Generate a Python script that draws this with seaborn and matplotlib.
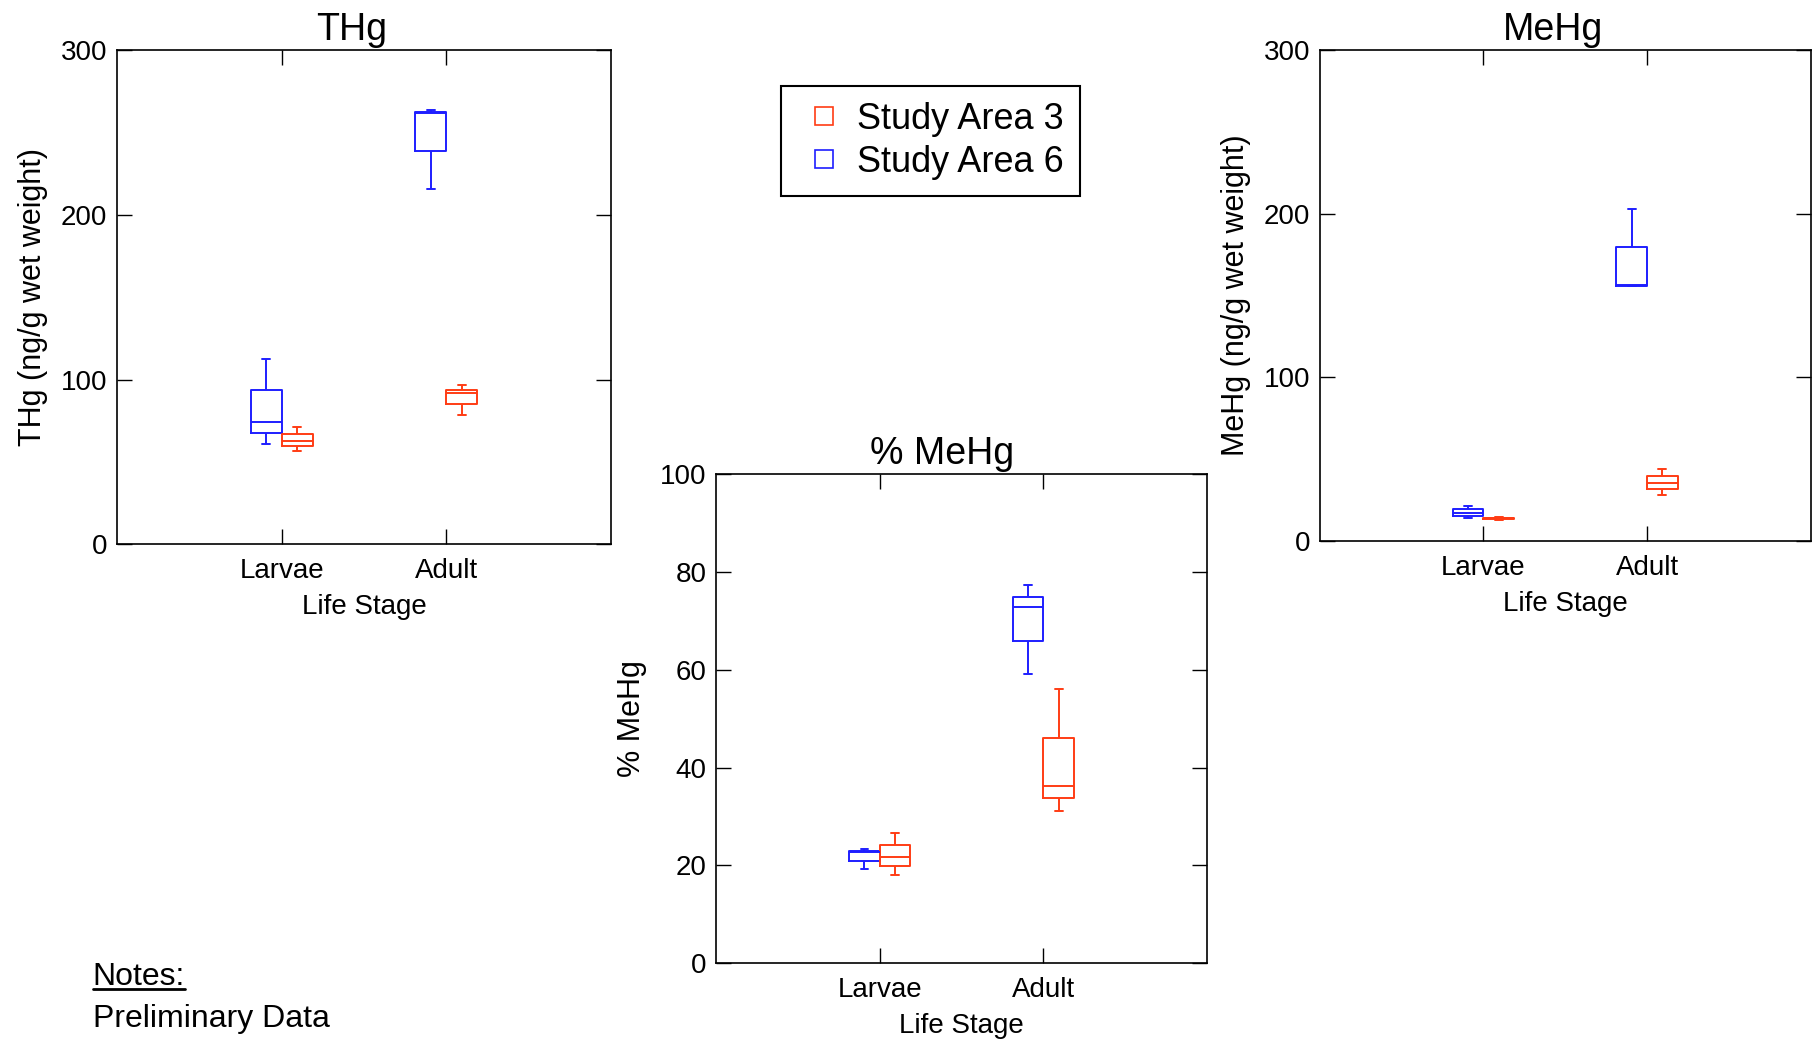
import matplotlib
matplotlib.use("agg")
import matplotlib.pyplot as plt
from matplotlib.lines import Line2D
import numpy as np
import pandas as pd
import seaborn as sns

stages = ["Larvae", "Adult"]
# drawing order inside each stage (blue left, red right)
areas = ["Study Area 6", "Study Area 3"]
legend_order = ["Study Area 3", "Study Area 6"]
colors = {"Study Area 3": "#ff3c14", "Study Area 6": "#1e1eff"}

# five-number summaries: min, q1, median, q3, max
thg_area6_larvae = [60.8, 67.7, 74.5, 93.5, 112.5]
thg_area3_larvae = [56.8, 59.9, 62.6, 66.8, 71.0]
thg_area6_adult = [215.8, 239.0, 262.0, 262.6, 263.3]
thg_area3_adult = [78.6, 85.1, 91.6, 94.0, 96.5]

pct_area6_larvae = [19.2, 21.0, 22.8, 23.0, 23.3]
pct_area3_larvae = [18.0, 19.8, 21.8, 24.2, 26.7]
pct_area6_adult = [59.1, 65.9, 72.7, 74.9, 77.2]
pct_area3_adult = [31.1, 33.7, 36.2, 46.1, 56.0]

mehg_area6_larvae = [13.8, 15.4, 17.3, 19.6, 21.2]
mehg_area3_larvae = [12.9, 13.4, 13.8, 14.2, 14.6]
mehg_area6_adult = [155.5, 156.0, 156.5, 179.5, 202.7]
mehg_area3_adult = [28.3, 31.5, 35.3, 39.5, 43.9]


def long_table(larvae6, larvae3, adult6, adult3):
    rows = []
    groups = [("Larvae", "Study Area 6", larvae6), ("Larvae", "Study Area 3", larvae3),
              ("Adult", "Study Area 6", adult6), ("Adult", "Study Area 3", adult3)]
    for stage, area, vals in groups:
        for v in vals:
            rows.append({"Life Stage": stage, "Area": area, "value": v})
    return pd.DataFrame(rows)


sns.set_style("ticks")
plt.rcParams["font.family"] = ["Liberation Sans", "DejaVu Sans"]
plt.rcParams["text.color"] = "black"
plt.rcParams["axes.labelcolor"] = "black"

fig = plt.figure(figsize=(18.2, 10.41), dpi=100)

# data, title, title x, y label, y ticks, axes rect
panels = [
    (long_table(thg_area6_larvae, thg_area3_larvae, thg_area6_adult, thg_area3_adult),
     "THg", 0.475, "THg (ng/g wet weight)", [0, 100, 200, 300], [0.0644, 0.4770, 0.2711, 0.4750]),
    (long_table(pct_area6_larvae, pct_area3_larvae, pct_area6_adult, pct_area3_adult),
     "% MeHg", 0.461, "% MeHg", [0, 20, 40, 60, 80, 100], [0.3935, 0.0745, 0.2697, 0.4705]),
    (long_table(mehg_area6_larvae, mehg_area3_larvae, mehg_area6_adult, mehg_area3_adult),
     "MeHg", 0.475, "MeHg (ng/g wet weight)", [0, 100, 200, 300], [0.7251, 0.4804, 0.2698, 0.4717]),
]

for df, title, tx, ylab, yticks, pos in panels:
    ax = fig.add_axes(pos)
    sns.boxplot(data=df, x="Life Stage", y="value", hue="Area", order=stages,
                hue_order=areas, palette=colors, fill=False, width=0.375, gap=0,
                whis=(0, 100), linewidth=1.4, showfliers=False, legend=False, ax=ax)
    # shorter whisker caps, like the original
    for ln in ax.lines:
        xd = np.asarray(ln.get_xdata(), float)
        yd = np.asarray(ln.get_ydata(), float)
        if len(xd) == 2 and yd[0] == yd[1] and abs(xd[1] - xd[0]) < 0.15:
            c = xd.mean()
            ln.set_xdata([c - 0.024, c + 0.024])
    ax.set_xlim(-1, 2)
    ax.set_ylim(yticks[0], yticks[-1])
    ax.set_yticks(yticks)
    ax.set_title(title, fontsize=27, pad=7, x=tx, color="black")
    ax.set_ylabel(ylab, fontsize=22, labelpad=9, color="black")
    ax.set_xlabel("Life Stage", fontsize=20, labelpad=7, color="black")
    ax.tick_params(direction="in", length=11, width=1, top=True, right=True,
                   labelsize=20, color="black", labelcolor="black")
    ax.tick_params(axis="x", pad=10)
    ax.tick_params(axis="y", pad=7)
    for sp in ax.spines.values():
        sp.set_visible(True)
        sp.set_color("black")
        sp.set_linewidth(1.2)

handles = [Line2D([], [], marker="s", linestyle="none", markerfacecolor="none",
                  markeredgecolor=colors[a], markersize=13, markeredgewidth=1.2)
           for a in legend_order]
leg = fig.legend(handles, legend_order, loc="upper left", bbox_to_anchor=(0.4292, 0.9175),
                 fontsize=26, frameon=True, fancybox=False, edgecolor="black", framealpha=1,
                 borderpad=0.45, handlelength=1.5, handletextpad=0.15, labelspacing=0.22,
                 borderaxespad=0)
leg.get_frame().set_linewidth(1.5)
for t in leg.get_texts():
    t.set_color("black")

notes = fig.text(0.051, 0.0538, "Notes:", fontsize=23, va="baseline", color="black")
fig.text(0.051, 0.0137, "Preliminary Data", fontsize=23, va="baseline", color="black")

# underline "Notes:"
fig.canvas.draw()
bb = notes.get_window_extent()
inv = fig.transFigure.inverted()
(x0, _), (x1, _) = inv.transform([[bb.x0, bb.y0], [bb.x1, bb.y1]])
fig.add_artist(Line2D([x0, x1], [0.0538 - 0.004] * 2, transform=fig.transFigure,
                      color="black", linewidth=2))

fig.savefig("out.png", dpi=100)
